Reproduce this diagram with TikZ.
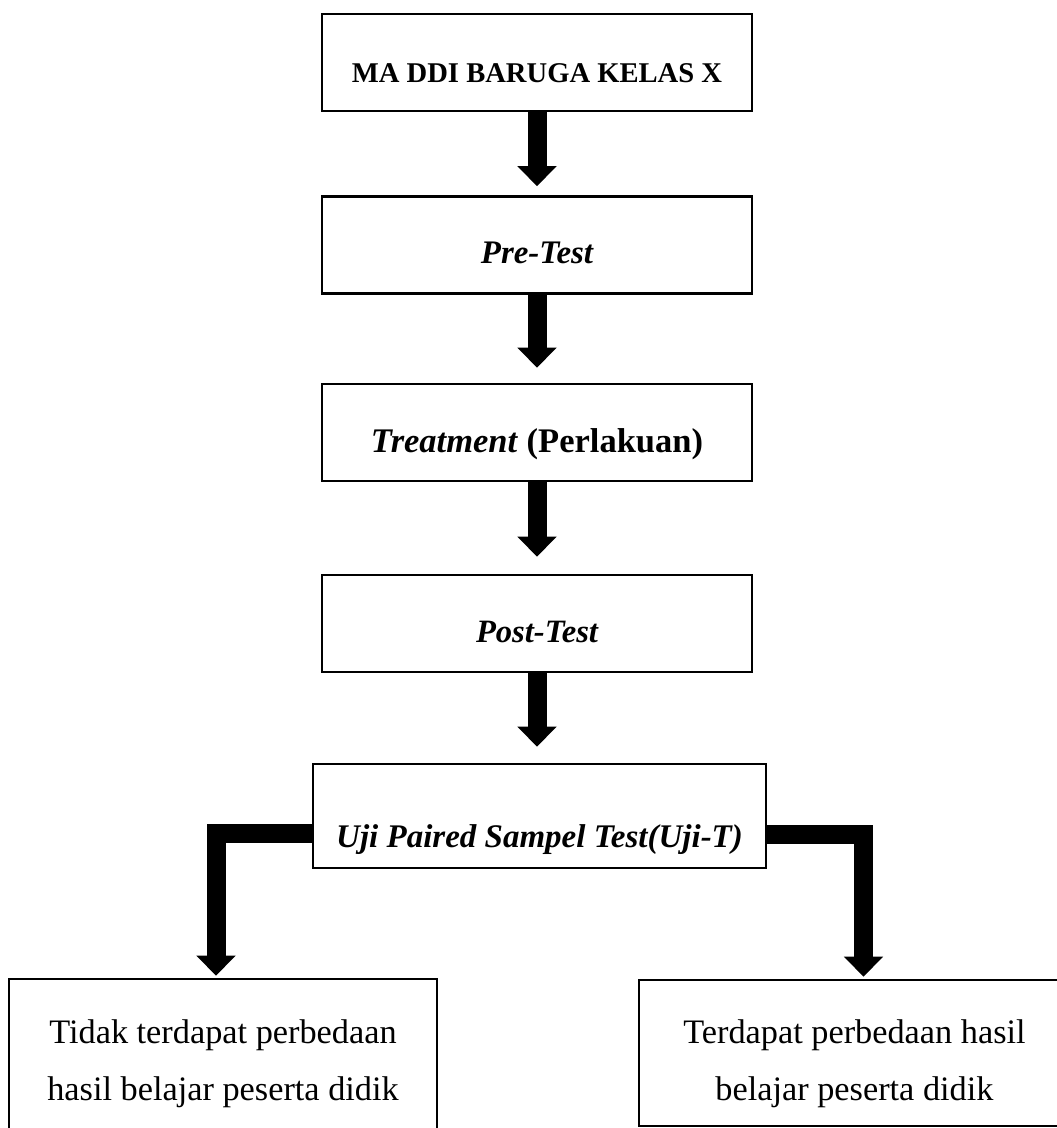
\documentclass[tikz,border=0pt]{standalone}
\usepackage{fontspec}
\setmainfont{Liberation Serif}
\usetikzlibrary{arrows.meta}
\begin{document}
\begin{tikzpicture}[x=1pt,y=-1pt,
  box/.style={draw, line width=2.6pt, inner sep=0pt, minimum width=430pt, minimum height=97pt, text depth=0pt},
  flow/.style={line width=19pt, line join=miter, -{Triangle[width=38pt,length=20pt]}},
  bottomtext/.style={font=\fontsize{34.3}{57}\selectfont}]
\useasboundingbox (0,0) rectangle (1057,1128);
\node[box, text height=39pt, font=\bfseries\fontsize{28.6}{34}\selectfont] (b1) at (537,62.5) {MA DDI BARUGA KELAS X};
\node[box, text height=36pt, font=\bfseries\itshape\fontsize{32.9}{38}\selectfont] (b2) at (537,245) {Pre-Test};
\node[box, text height=39pt, font=\bfseries\fontsize{34.5}{40}\selectfont] (b3) at (537,432.5) {\textit{Treatment} (Perlakuan)};
\node[box, text height=37pt, font=\bfseries\itshape\fontsize{32.6}{38}\selectfont] (b4) at (537,623.5) {Post-Test};
\node[box, minimum width=453pt, minimum height=104pt, text height=62pt, font=\bfseries\itshape\fontsize{33}{38}\selectfont] (b5) at (539.5,816) {Uji Paired Sampel Test(Uji-T)};
\node[box, minimum width=428pt, minimum height=161pt, text height=0pt, text depth=33pt, bottomtext] (b6) at (223,1059.5)
  {\parbox[t]{420pt}{\centering Tidak terdapat perbedaan\hspace*{16pt}\\ hasil belajar peserta didik}};
\node[box, minimum width=431pt, minimum height=146pt, text height=0pt, text depth=20pt, bottomtext] (b7) at (854.5,1053)
  {\parbox[t]{420pt}{\centering Terdapat perbedaan hasil\\ belajar peserta didik}};
\draw[flow, shorten >=9pt] (b1) -- (b2);
\draw[flow, shorten >=15pt] (b2) -- (b3);
\draw[flow, shorten >=17pt] (b3) -- (b4);
\draw[flow, shorten >=16pt] (b4.south) -- (b4.south |- b5.north);
\draw[flow, shorten >=2pt] ([yshift=-17pt]b5.west) -| ([xshift=-7pt]b6.north);
\draw[flow, shorten >=2pt] ([yshift=-18pt]b5.east) -| ([xshift=9pt]b7.north);
\end{tikzpicture}
\end{document}
